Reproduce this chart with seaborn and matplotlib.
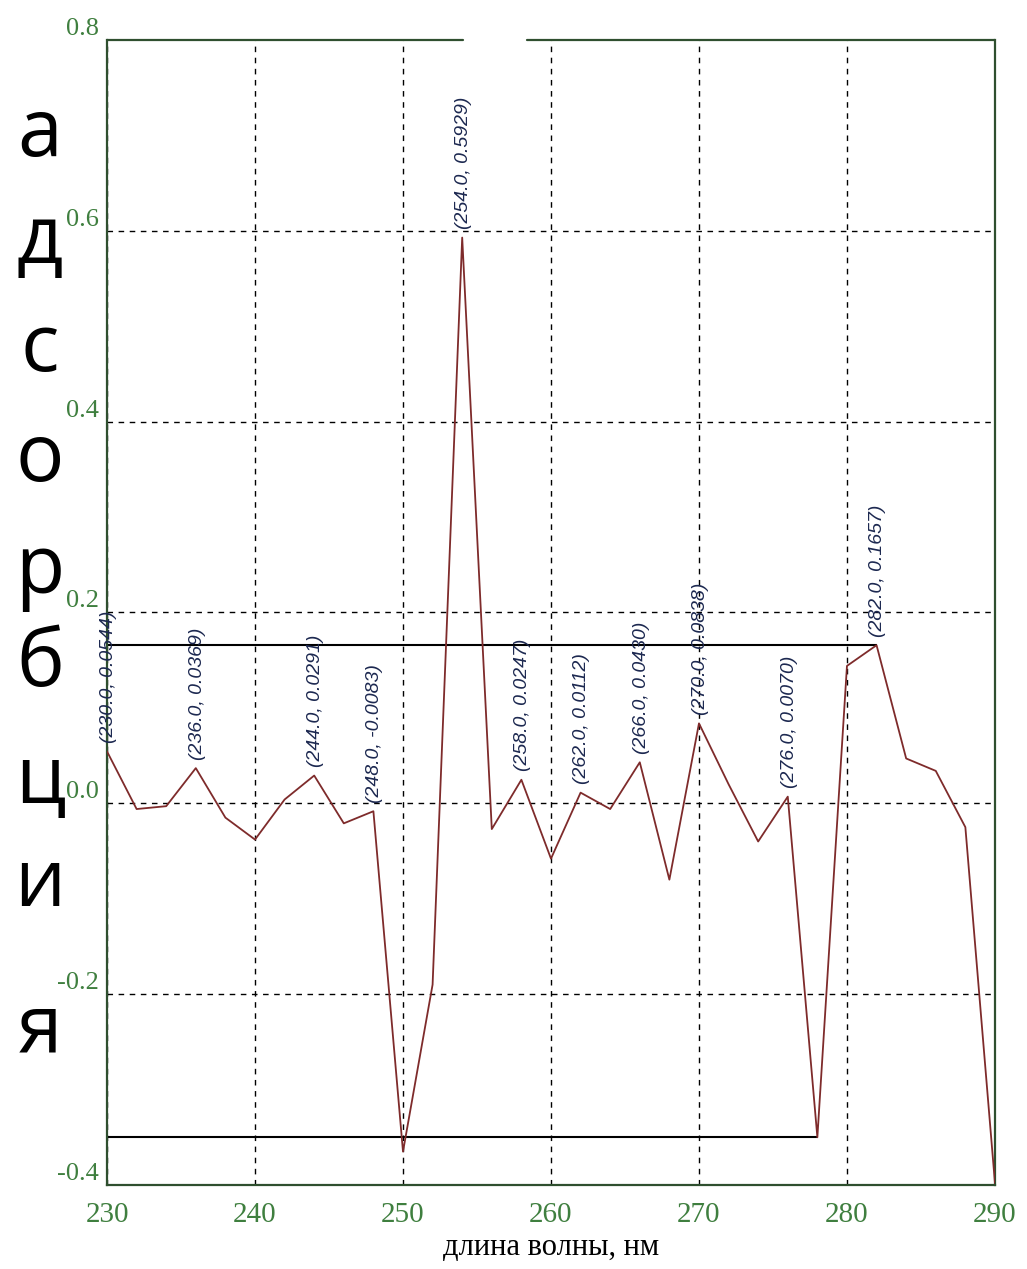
import matplotlib
matplotlib.use("Agg")
import matplotlib.pyplot as plt
import seaborn as sns
import pandas as pd
from matplotlib.ticker import FormatStrFormatter

# ---- data ----
wavelength = [230, 232, 234, 236, 238, 240, 242, 244, 246, 248, 250, 252, 254, 256, 258, 260,
              262, 264, 266, 268, 270, 272, 274, 276, 278, 280, 282, 284, 286, 288, 290]
absorbance = [0.0544, -0.006, -0.003, 0.0369, -0.015, -0.038, 0.004, 0.0291, -0.021, -0.0083,
              -0.365, -0.19, 0.5929, -0.027, 0.0247, -0.058, 0.0112, -0.006, 0.0430, -0.080,
              0.0838, 0.020, -0.040, 0.0070, -0.350, 0.144, 0.1657, 0.047, 0.034, -0.025, -0.398]
peak_x = [230, 236, 244, 248, 254, 258, 262, 266, 270, 276, 282]
peak_labels = ["(230.0, 0.0544)", "(236.0, 0.0369)", "(244.0, 0.0291)", "(248.0, -0.0083)",
               "(254.0, 0.5929)", "(258.0, 0.0247)", "(262.0, 0.0112)", "(266.0, 0.0430)",
               "(270.0, 0.0838)", "(276.0, 0.0070)", "(282.0, 0.1657)"]
ref_upper_x = 282   # horizontal marker line ends here
ref_lower_x = 278   # lower horizontal marker line ends here
x_ticks = [230, 240, 250, 260, 270, 280, 290]
y_ticks = [-0.4, -0.2, 0.0, 0.2, 0.4, 0.6, 0.8]
ylabel_letters = list("адсорбция")
xlabel = "длина волны, нм"

df = pd.DataFrame({"wl": wavelength, "abs": absorbance})

sns.set_style("white")
plt.rcParams["font.family"] = ["Liberation Serif", "DejaVu Serif"]
plt.rcParams["axes.unicode_minus"] = False

fig = plt.figure(figsize=(10.27, 12.69), dpi=100)
ax = fig.add_axes([0.1042, 0.0662, 0.8646, 0.9023])

green = "#3f7f3f"
frame = "#2f4f2f"

sns.lineplot(data=df, x="wl", y="abs", ax=ax, color="#7e2b2b", linewidth=1.3, zorder=3)

# reference horizontal lines
y_up = absorbance[wavelength.index(ref_upper_x)]
ax.hlines(y_up, wavelength[0], ref_upper_x, color="black", linewidth=1.5, zorder=2)
y_lo = absorbance[wavelength.index(ref_lower_x)]
ax.hlines(y_lo, wavelength[0], ref_lower_x, color="black", linewidth=1.5, zorder=2)

# point annotations
for px, lab in zip(peak_x, peak_labels):
    py = absorbance[wavelength.index(px)]
    ax.annotate(lab, xy=(px, py), xytext=(1, 6), textcoords="offset points",
                rotation=90, ha="center", va="bottom", fontsize=14,
                family=["Liberation Sans", "DejaVu Sans"], style="italic",
                color="#1c2850", zorder=4)

ax.set_xlim(230, 290)
ax.set_ylim(-0.4, 0.8)
ax.set_xticks(x_ticks)
ax.set_yticks(y_ticks)
ax.yaxis.set_major_formatter(FormatStrFormatter("%.1f"))
ax.grid(True, color="black", linestyle=(0, (4, 4)), linewidth=1.0)
ax.yaxis.get_gridlines()[-1].set_visible(False)
ax.tick_params(axis="both", length=0, colors=green)
ax.tick_params(axis="x", pad=12, labelsize=21)
ax.tick_params(axis="y", pad=6, labelsize=19)
for lbl in ax.get_yticklabels():
    lbl.set_verticalalignment("bottom")
ax.set_xlabel(xlabel, fontsize=22, color="black", labelpad=4)
ax.set_ylabel("")

for s in ["left", "right", "bottom"]:
    ax.spines[s].set_color(frame)
    ax.spines[s].set_linewidth(1.6)
ax.spines["top"].set_visible(False)
# top frame with the gap seen in the reference
ax.plot([0, 0.401], [1, 1], transform=ax.transAxes, color=frame, linewidth=1.6, clip_on=False)
ax.plot([0.473, 1], [1, 1], transform=ax.transAxes, color=frame, linewidth=1.6, clip_on=False)

# vertical stacked y-label letters
letter_y = [135, 242, 350, 460, 572, 665, 782, 885, 1030]
for ch, yp in zip(ylabel_letters, letter_y):
    fig.text(40 / 1027, 1 - yp / 1269, ch, fontsize=58, ha="center", va="center",
             family=["Open Sans", "DejaVu Sans"], color="black")

fig.savefig("out.png", dpi=100, facecolor="white")
